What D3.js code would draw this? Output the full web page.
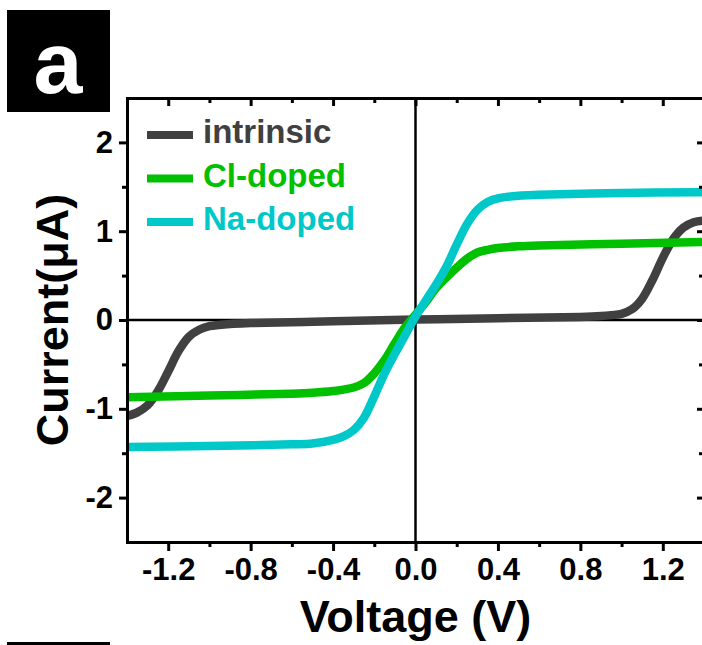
<!DOCTYPE html>
<html>
<head>
<meta charset="utf-8">
<script src="https://cdnjs.cloudflare.com/ajax/libs/d3/7.8.5/d3.min.js"></script>
<style>
  body { margin: 0; background: #fff; }
  text { font-family: "Liberation Sans", Arial, sans-serif; font-weight: bold; }
</style>
</head>
<body>
<script>
// values (voltage in V, current in uA)
const intrinsicV = [-1.4, -1.35, -1.3, -1.25, -1.2, -1.15, -1.1, -1.05, -1.0, -0.9, -0.8, -0.4, 0, 0.4, 0.8, 0.9, 0.95, 1.0, 1.05, 1.1, 1.15, 1.2, 1.25, 1.3, 1.35, 1.4];
const intrinsicI = [-1.08, -1.04, -0.96, -0.80, -0.58, -0.35, -0.19, -0.11, -0.07, -0.045, -0.035, -0.015, 0.005, 0.02, 0.035, 0.045, 0.055, 0.07, 0.12, 0.24, 0.45, 0.70, 0.91, 1.04, 1.10, 1.12];

const clV = [-1.4, -1.0, -0.6, -0.5, -0.4, -0.3, -0.25, -0.2, -0.15, -0.1, -0.05, 0, 0.05, 0.1, 0.15, 0.2, 0.25, 0.3, 0.35, 0.4, 0.5, 0.6, 1.0, 1.4];
const clI = [-0.87, -0.85, -0.83, -0.82, -0.80, -0.76, -0.71, -0.60, -0.45, -0.26, -0.08, 0.06, 0.20, 0.36, 0.48, 0.59, 0.69, 0.76, 0.79, 0.81, 0.83, 0.84, 0.86, 0.88];

const naV = [-1.4, -1.0, -0.6, -0.5, -0.4, -0.35, -0.3, -0.25, -0.2, -0.15, -0.1, -0.05, 0, 0.05, 0.1, 0.15, 0.2, 0.25, 0.3, 0.35, 0.4, 0.5, 0.6, 1.0, 1.4];
const naI = [-1.43, -1.42, -1.40, -1.39, -1.35, -1.31, -1.24, -1.10, -0.86, -0.60, -0.38, -0.17, 0.04, 0.22, 0.40, 0.60, 0.85, 1.08, 1.24, 1.33, 1.37, 1.40, 1.41, 1.43, 1.44];

const seriesNames = ["intrinsic", "Cl-doped", "Na-doped"];
const seriesColors = ["#404040", "#00c000", "#00c8c8"];

const xMajor = [-1.2, -0.8, -0.4, 0.0, 0.4, 0.8, 1.2];
const xMinor = [-1.0, -0.6, -0.2, 0.2, 0.6, 1.0];
const yMajor = [-2, -1, 0, 1, 2];
const yMinor = [-1.5, -0.5, 0.5, 1.5];

const w = 702, h = 645;
const plotLeft = 127, plotRight = 704, plotTop = 98, plotBottom = 542;

const svg = d3.select("body").append("svg")
    .attr("width", w)
    .attr("height", h);

const x = d3.scaleLinear().domain([-1.4, 1.4]).range([plotLeft, plotRight]);
const y = d3.scaleLinear().domain([-2.5, 2.5]).range([plotBottom, plotTop]);

// zero lines
svg.append("line")
    .attr("x1", plotLeft).attr("x2", plotRight)
    .attr("y1", y(0)).attr("y2", y(0))
    .attr("stroke", "#000").attr("stroke-width", 2.5);
svg.append("line")
    .attr("x1", x(0)).attr("x2", x(0))
    .attr("y1", plotTop).attr("y2", plotBottom)
    .attr("stroke", "#000").attr("stroke-width", 2.5);

// curves
const series = [
    {v: intrinsicV, i: intrinsicI},
    {v: clV, i: clI},
    {v: naV, i: naI}
];
const line = d3.line()
    .x(d => x(d[0]))
    .y(d => y(d[1]))
    .curve(d3.curveCatmullRom.alpha(0.5));

series.forEach((s, k) => {
    svg.append("path")
        .datum(s.v.map((v, j) => [v, s.i[j]]))
        .attr("d", line)
        .attr("fill", "none")
        .attr("stroke", seriesColors[k])
        .attr("stroke-width", 8.5);
});

// axes
function styleAxis(g) {
    g.selectAll("path").attr("stroke-width", 3).attr("stroke-linecap", "square");
    g.selectAll("line").attr("stroke-width", 3);
    g.selectAll("text").attr("fill", "#000");
}

// bottom
svg.append("g")
    .attr("transform", "translate(0," + plotBottom + ")")
    .call(d3.axisBottom(x).tickValues(xMinor).tickSize(5).tickSizeOuter(0).tickFormat(""))
    .call(styleAxis);
svg.append("g")
    .attr("transform", "translate(0," + plotBottom + ")")
    .call(d3.axisBottom(x).tickValues(xMajor).tickSize(9).tickSizeOuter(0).tickPadding(7)
        .tickFormat(d => d.toFixed(1)))
    .call(styleAxis)
    .call(g => g.selectAll("text").style("font-size", "31px"));

// top (ticks pointing in)
svg.append("g")
    .attr("transform", "translate(0," + plotTop + ")")
    .call(d3.axisBottom(x).tickValues(xMinor).tickSize(5).tickSizeOuter(0).tickFormat(""))
    .call(styleAxis);
svg.append("g")
    .attr("transform", "translate(0," + plotTop + ")")
    .call(d3.axisBottom(x).tickValues(xMajor).tickSize(8).tickSizeOuter(0).tickFormat(""))
    .call(styleAxis);

// left
svg.append("g")
    .attr("transform", "translate(" + plotLeft + ",0)")
    .call(d3.axisLeft(y).tickValues(yMinor).tickSize(5).tickSizeOuter(0).tickFormat(""))
    .call(styleAxis);
svg.append("g")
    .attr("transform", "translate(" + plotLeft + ",0)")
    .call(d3.axisLeft(y).tickValues(yMajor).tickSize(8).tickSizeOuter(0).tickPadding(6)
        .tickFormat(d => String(d)))
    .call(styleAxis)
    .call(g => g.selectAll("text").style("font-size", "31px"));

// right (ticks pointing in)
svg.append("g")
    .attr("transform", "translate(" + plotRight + ",0)")
    .call(d3.axisLeft(y).tickValues(yMinor).tickSize(5).tickSizeOuter(0).tickFormat(""))
    .call(styleAxis);
svg.append("g")
    .attr("transform", "translate(" + plotRight + ",0)")
    .call(d3.axisLeft(y).tickValues(yMajor).tickSize(7).tickSizeOuter(0).tickFormat(""))
    .call(styleAxis);

// axis titles
svg.append("text")
    .attr("x", (plotLeft + plotRight) / 2)
    .attr("y", 632)
    .attr("text-anchor", "middle")
    .style("font-size", "45px")
    .text("Voltage (V)");

svg.append("text")
    .attr("transform", "translate(68," + ((plotTop + plotBottom) / 2) + ") rotate(-90)")
    .attr("text-anchor", "middle")
    .style("font-size", "45px")
    .text("Current(\u03bcA)");

// legend
const legend = svg.append("g").attr("transform", "translate(147,135)");
seriesNames.forEach((name, k) => {
    const row = legend.append("g").attr("transform", "translate(0," + (k * 43.5) + ")");
    row.append("line")
        .attr("x1", 0).attr("x2", 46)
        .attr("stroke", seriesColors[k])
        .attr("stroke-width", 8);
    row.append("text")
        .attr("x", 56)
        .attr("y", 8)
        .attr("fill", seriesColors[k])
        .style("font-size", "33px")
        .text(name);
});

// panel label
svg.append("rect")
    .attr("x", 7).attr("y", 10)
    .attr("width", 103).attr("height", 102)
    .attr("fill", "#000");
svg.append("text")
    .attr("x", 58).attr("y", 93)
    .attr("text-anchor", "middle")
    .attr("fill", "#fff")
    .style("font-size", "88px")
    .text("a");

// bar at the bottom edge (next panel)
svg.append("rect")
    .attr("x", 7).attr("y", 642)
    .attr("width", 103).attr("height", 4)
    .attr("fill", "#000");
</script>
</body>
</html>
